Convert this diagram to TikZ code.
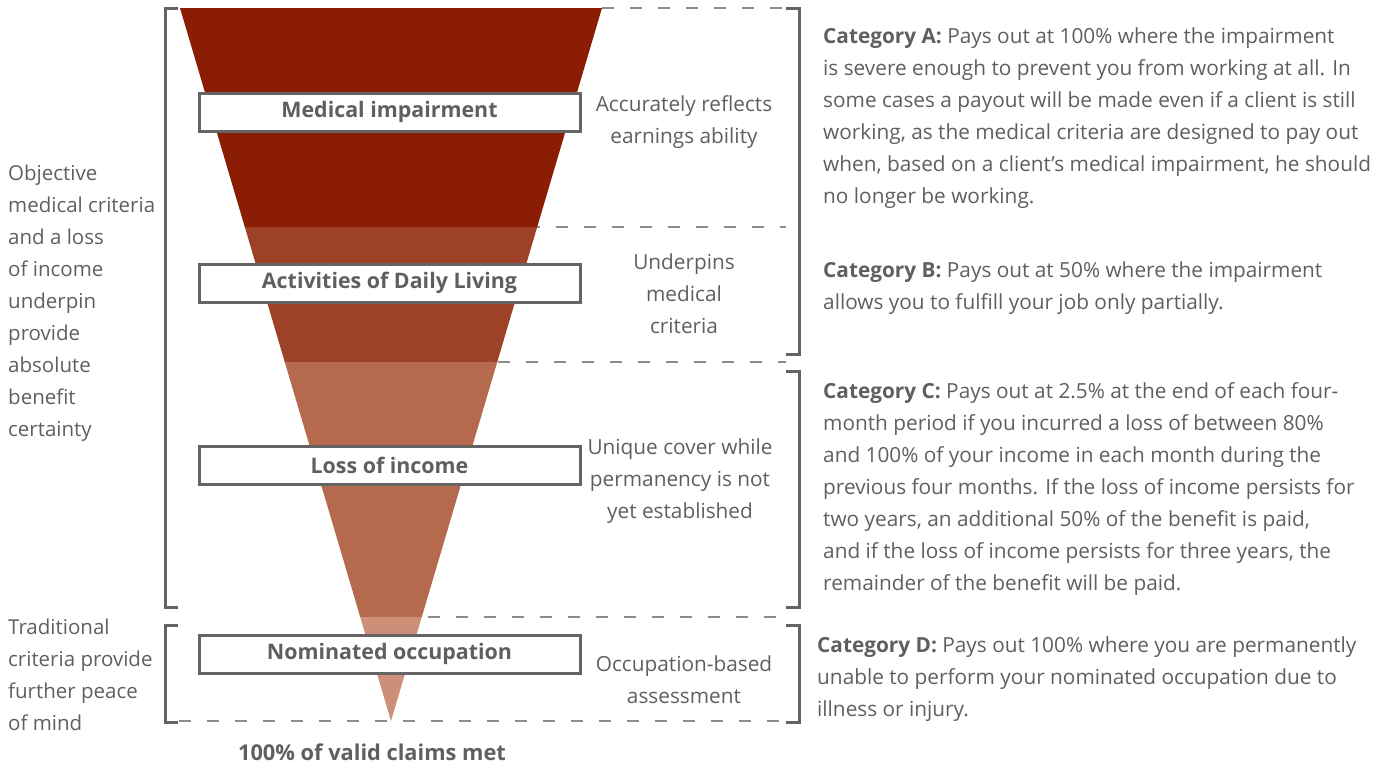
\documentclass[tikz,border=0pt]{standalone}
\usepackage{xcolor}
\usepackage{fontspec}
\setmainfont{Open Sans}
\usetikzlibrary{positioning}

\definecolor{bandA}{RGB}{139,29,4}
\definecolor{bandB}{RGB}{157,66,38}
\definecolor{bandC}{RGB}{181,106,77}
\definecolor{bandD}{RGB}{204,143,119}
\definecolor{txtgray}{RGB}{95,95,95}
\definecolor{rulegray}{RGB}{100,100,100}
\definecolor{dashgray}{RGB}{140,140,140}

\tikzset{
  levelbox/.style={draw=rulegray, line width=3pt, fill=white, minimum width=381pt, minimum height=38pt, inner sep=0pt, font=\fontsize{21.4}{32}\selectfont\bfseries, text=txtgray},
  sidenote/.style={align=center, inner sep=0pt, font=\fontsize{20.8}{32}\selectfont, text=txtgray},
  leftnote/.style={align=left, anchor=west, inner sep=0pt, font=\fontsize{20.5}{32}\selectfont, text=txtgray},
  catnote/.style={align=left, anchor=west, inner sep=0pt, font=\fontsize{20.8}{32}\selectfont, text=txtgray},
  bracket/.style={draw=rulegray, line width=3pt},
  divider/.style={draw=dashgray, line width=1.5pt, dash pattern=on 12pt off 16pt},
}

\begin{document}
\begin{tikzpicture}[x=1pt, y=-1pt]
                \useasboundingbox (0,0) rectangle (1384,764);
                % dashed dividers
                \draw[divider] (602,8) -- (786,8);
                \draw[divider] (500,227) -- (786,227);
                \draw[divider] (470,362) -- (786,362);
                \draw[divider] (400,617) -- (786,617);
                \draw[divider] (179,721) -- (786,721);
                % funnel
                \begin{scope}
                \clip (180,8) -- (602,8) -- (391,721) -- cycle;
                \fill[bandA] (170,8) rectangle (612,227);
                \fill[bandB] (170,227) rectangle (612,362);
                \fill[bandC] (170,362) rectangle (612,617);
                \fill[bandD] (170,617) rectangle (612,722);
                \end{scope}
                % brackets
                \draw[bracket] (178,8) -| (165,607) -- (178,607);
                \draw[bracket] (178,625) -| (165,722) -- (178,722);
                \draw[bracket] (786,8) -| (799,354) -- (786,354);
                \draw[bracket] (786,371) -| (799,607) -- (786,607);
                \draw[bracket] (786,625) -| (799,722) -- (786,722);
                % level boxes
                \node[levelbox] (med) at (389.5,112) {Medical impairment};
                \node[levelbox] (adl) at (389.5,283) {Activities of Daily Living};
                \node[levelbox] (loi) at (389.5,465) {Loss of income};
                \node[levelbox] (occ) at (389.5,654) {Nominated occupation};
                % notes beside the funnel
                \node[sidenote] (medn) at (684,122) {Accurately reflects\\earnings ability};
                \node[sidenote] (adln) at (684,294) {Underpins\\medical\\criteria};
                \node[sidenote] (loin) at (680,481) {Unique cover while\\permanency is not\\yet established};
                \node[sidenote] (occn) at (684,680) {Occupation-based\\assessment};
                % left notes
                \node[leftnote] (obj) at (8,303) {Objective\\medical criteria\\and a loss\\of income\\underpin\\provide\\absolute\\benefit\\certainty};
                \node[leftnote] (trad) at (8,675) {Traditional\\criteria provide\\further peace\\of mind};
                % categories
                \node[catnote] (catA) at (823,118.5) {\textbf{Category A:} Pays out at 100\% where the impairment\\is severe enough to prevent you from working at all. In\\some cases a payout will be made even if a client is still\\working, as the medical criteria are designed to pay out\\when, based on a client’s medical impairment, he should\\no longer be working.};
                \node[catnote] (catB) at (823,288) {\textbf{Category B:} Pays out at 50\% where the impairment\\allows you to fulfill your job only partially.};
                \node[catnote] (catC) at (823,489) {\textbf{Category C:} Pays out at 2.5\% at the end of each four-\\month period if you incurred a loss of between 80\%\\and 100\% of your income in each month during the\\previous four months. If the loss of income persists for\\two years, an additional 50\% of the benefit is paid,\\and if the loss of income persists for three years, the\\remainder of the benefit will be paid.};
                \node[catnote] (catD) at (817,679) {\textbf{Category D:} Pays out 100\% where you are permanently\\unable to perform your nominated occupation due to\\illness or injury.};
                % bottom caption
                \node[font=\fontsize{21.8}{24}\selectfont\bfseries, text=txtgray] (total) at (372,752) {100\% of valid claims met};
            \end{tikzpicture}
\end{document}
